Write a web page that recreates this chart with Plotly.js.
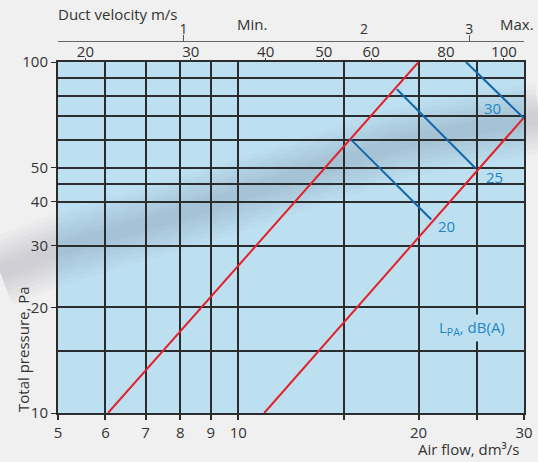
<!DOCTYPE html>
<html>
<head>
<meta charset="utf-8">
<script src="https://cdn.plot.ly/plotly-3.0.1.min.js"></script>
<style>
  html, body { margin: 0; padding: 0; background: #f0f0f0; }
  #chart { width: 538px; height: 462px; }
</style>
</head>
<body>
<div id="chart"></div>
<script>
// ---- data ----
const flowTicks = [5, 6, 7, 8, 9, 10, 20, 30];
const flowMinorTicks = [15, 25];
const pressTicks = [10, 20, 30, 40, 50, 100];
const pressMinorGrid = [15, 45, 60, 70, 80, 90];
const m3hTicks = [20, 30, 40, 50, 60, 80, 100];
const velTicks = [1, 3];
const velExtraLabel = 2;

// red system curves (air flow dm3/s, pressure Pa)
const red1Flow = [6.06, 20.0];
const red1Press = [10, 100];
const red2Flow = [11.05, 30.0];
const red2Press = [10, 69.5];

// blue sound level lines
const b20Flow = [15.4, 21.0];
const b20Press = [60.3, 35.6];
const b25Flow = [18.4, 24.9];
const b25Press = [83.6, 49.8];
const b30Flow = [24.0, 30.0];
const b30Press = [100, 69.1];

const soundLabels = ['20', '25', '30'];
const soundLabelFlow = [22.3, 26.8, 26.6];
const soundLabelPress = [34.2, 46.9, 73.8];

const FLOW_RANGE = [5, 30];
const PRESS_RANGE = [10, 100];
const M3H_PER_DM3S = 3.6;
const DM3S_PER_MS = 8.1;

// ---- styling ----
const RED = '#e3202b';
const BLUE = '#1466ab';
const LBLUE = '#1f86c6';
const TXT = '#333333';
const GRID = '#2a2c2e';
const FONT = 'Open Sans, Noto Sans, sans-serif';
const lg = Math.log10;
const py = p => (413 - p) / 372;   // pixel row -> paper y
const px = p => (p - 58) / 466;    // pixel column -> paper x

function line(x, y, color) {
  return { type: 'scatter', mode: 'lines', x: x, y: y, xaxis: 'x', yaxis: 'y',
           line: { color: color, width: 2 }, hoverinfo: 'skip', showlegend: false };
}

const traces = [
  line(red1Flow, red1Press, RED),
  line(red2Flow, red2Press, RED),
  line(b20Flow, b20Press, BLUE),
  line(b25Flow, b25Press, BLUE),
  line(b30Flow, b30Press, BLUE)
];

const annotations = soundLabels.map((t, i) => ({
  text: t, xref: 'x', yref: 'y', x: lg(soundLabelFlow[i]), y: lg(soundLabelPress[i]),
  xanchor: 'center', yanchor: 'middle',
  showarrow: false, font: { family: FONT, size: 15, color: LBLUE }
}));

annotations.push({
  text: 'L<sub>PA</sub>, dB(A)', xref: 'x', yref: 'y', x: lg(24.6), y: lg(17.5),
  xanchor: 'center', yanchor: 'middle',
  showarrow: false, font: { family: FONT, size: 15, color: LBLUE },
  bgcolor: '#bde0f0', borderpad: 2
});
annotations.push({
  text: String(velExtraLabel), xref: 'x3', yref: 'paper', x: lg(velExtraLabel), y: py(28),
  xanchor: 'center', yanchor: 'middle', showarrow: false, font: { family: FONT, size: 14, color: TXT }
});
annotations.push({
  text: 'Min.', xref: 'paper', yref: 'paper', x: px(252), y: py(24),
  xanchor: 'center', yanchor: 'middle', showarrow: false, font: { family: FONT, size: 15, color: TXT }
});
annotations.push({
  text: 'Max.', xref: 'paper', yref: 'paper', x: px(536), xanchor: 'right',
  y: py(24), yanchor: 'middle', showarrow: false, font: { family: FONT, size: 15, color: TXT }
});
annotations.push({
  text: 'Duct velocity m/s', xref: 'paper', yref: 'paper', x: px(56), xanchor: 'left',
  y: py(14), yanchor: 'middle', showarrow: false, font: { family: FONT, size: 15, color: TXT }
});
annotations.push({
  text: 'Total pressure, Pa', xref: 'paper', yref: 'paper', x: px(23), xanchor: 'center',
  y: py(349), yanchor: 'middle', textangle: -90, showarrow: false, font: { family: FONT, size: 15, color: TXT }
});
annotations.push({
  text: 'Air flow, dm³/s', xref: 'paper', yref: 'paper', x: px(521), xanchor: 'right',
  y: py(449), yanchor: 'middle', showarrow: false, font: { family: FONT, size: 15, color: TXT }
});

// decorative blurred shadow band (paper coordinates)
const bandPx = [[0, 272], [58, 250], [200, 208], [330, 165], [400, 143], [470, 129], [540, 118]];
const bandPath = bandPx.map((p, i) => (i ? 'L' : 'M') + px(p[0]).toFixed(4) + ',' + py(p[1]).toFixed(4)).join(' ');
const shapes = [70, 60, 50, 41, 32, 23, 14].map(w => ({
  type: 'path', path: bandPath, xref: 'paper', yref: 'paper', layer: 'below',
  line: { color: 'rgba(70,85,95,0.028)', width: w }
}));

const tickFont = { family: FONT, size: 15, color: TXT };

const layout = {
  width: 538, height: 462,
  margin: { l: 58, r: 14, t: 41, b: 49 },
  paper_bgcolor: '#f0f0f0',
  plot_bgcolor: '#bde0f0',
  showlegend: false,
  xaxis: {
    type: 'log', range: [lg(FLOW_RANGE[0]), lg(FLOW_RANGE[1])],
    tickvals: flowTicks, ticktext: flowTicks.map(String), ticks: 'outside', ticklen: 5, tickwidth: 2,
    tickcolor: GRID, showgrid: true, gridcolor: GRID, gridwidth: 2,
    minor: { tickvals: flowMinorTicks, showgrid: true, gridcolor: GRID, gridwidth: 2,
             ticks: 'outside', ticklen: 5, tickwidth: 2, tickcolor: GRID },
    showline: true, mirror: true, linecolor: GRID, linewidth: 2,
    tickfont: tickFont, zeroline: false, fixedrange: true
  },
  xaxis2: {
    type: 'log', overlaying: 'x', side: 'top', anchor: 'y',
    range: [lg(FLOW_RANGE[0] * M3H_PER_DM3S), lg(FLOW_RANGE[1] * M3H_PER_DM3S)],
    tickvals: m3hTicks, ticktext: m3hTicks.map(String), ticks: 'outside', ticklen: 3, tickwidth: 1,
    tickcolor: '#444', showgrid: false, showline: false, tickfont: tickFont, fixedrange: true,
    ticklabelstandoff: -5
  },
  xaxis3: {
    type: 'log', overlaying: 'x', side: 'top', anchor: 'free', position: 1,
    range: [lg(FLOW_RANGE[0] / DM3S_PER_MS), lg(FLOW_RANGE[1] / DM3S_PER_MS)],
    tickvals: velTicks, ticktext: velTicks.map(String), ticks: 'outside', ticklen: 6, tickwidth: 1,
    tickcolor: '#555', showgrid: false, showline: true, linecolor: '#666', linewidth: 1,
    tickfont: { family: FONT, size: 14, color: TXT }, fixedrange: true,
    ticklabelstandoff: -5
  },
  yaxis: {
    type: 'log', range: [lg(PRESS_RANGE[0]), lg(PRESS_RANGE[1])], domain: [0, 351 / 372],
    tickvals: pressTicks, ticktext: pressTicks.map(String), ticks: 'outside', ticklen: 5, tickwidth: 1,
    tickcolor: GRID, showgrid: true, gridcolor: GRID, gridwidth: 2,
    minor: { tickvals: pressMinorGrid, showgrid: true, gridcolor: GRID, gridwidth: 2, ticks: '' },
    showline: true, mirror: true, linecolor: GRID, linewidth: 2,
    tickfont: tickFont, zeroline: false, fixedrange: true
  },
  annotations: annotations,
  shapes: shapes
};

// invisible traces so the extra axes render
traces.push({ type: 'scatter', mode: 'markers', x: [m3hTicks[0]], y: [PRESS_RANGE[0]], xaxis: 'x2', yaxis: 'y',
  marker: { opacity: 0 }, hoverinfo: 'skip', showlegend: false });
traces.push({ type: 'scatter', mode: 'markers', x: [velTicks[0]], y: [PRESS_RANGE[0]], xaxis: 'x3', yaxis: 'y',
  marker: { opacity: 0 }, hoverinfo: 'skip', showlegend: false });

Plotly.newPlot('chart', traces, layout, { displayModeBar: false });
</script>
</body>
</html>
